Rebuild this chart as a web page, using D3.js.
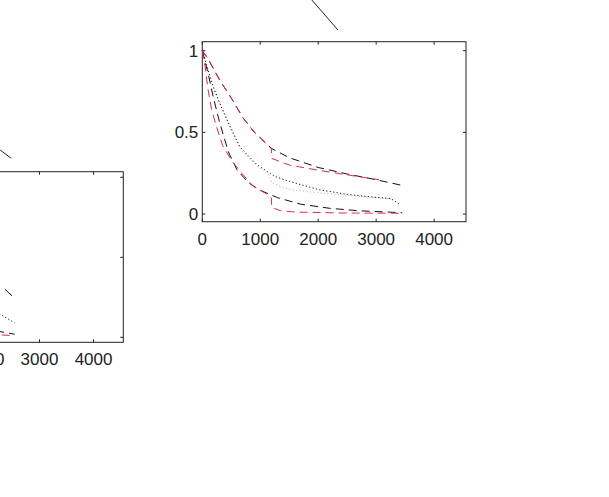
<!DOCTYPE html>
<html>
<head>
<meta charset="utf-8">
<script src="https://cdn.jsdelivr.net/npm/d3@7"></script>
<style>
  body { margin: 0; background: #fff; }
  svg { display: block; }
</style>
</head>
<body>
<div id="chart"></div>
<script>
// Tick values and labels
const xTicks = [0, 1000, 2000, 3000, 4000];
const xTickLabels = ["0", "1000", "2000", "3000", "4000"];
const yTicks = [0, 0.5, 1];
const yTickLabels = ["0", "0.5", "1"];

// Main panel series: [x, y]
const upperBlack = [[0, 1], [100, 0.95], [300, 0.82], [500, 0.71], [700, 0.59], [900, 0.5], [1200, 0.4], [1500, 0.345], [2000, 0.285], [2500, 0.245], [3000, 0.21], [3450, 0.175]];
const upperRed = [[0, 1], [100, 0.95], [300, 0.82], [500, 0.71], [700, 0.59], [900, 0.5], [1190, 0.4], [1200, 0.34], [1500, 0.3], [2000, 0.268], [2500, 0.24], [3050, 0.21]];
const midBlack = [[0, 1], [100, 0.88], [200, 0.77], [300, 0.68], [450, 0.56], [650, 0.41], [950, 0.3], [1250, 0.23], [1500, 0.2], [2000, 0.15], [2500, 0.12], [3000, 0.102], [3250, 0.095], [3400, 0.06]];
const midRed = [[0, 1], [100, 0.87], [200, 0.76], [450, 0.55], [650, 0.4], [950, 0.29], [1150, 0.24], [1200, 0.19], [1500, 0.15], [2000, 0.13], [2500, 0.115], [3000, 0.1], [3300, 0.09]];
const lowerBlack = [[0, 1], [100, 0.86], [200, 0.7], [300, 0.56], [450, 0.38], [600, 0.27], [800, 0.19], [1000, 0.145], [1300, 0.1], [1700, 0.06], [2200, 0.035], [2700, 0.02], [3450, 0.008]];
const lowerRed = [[0, 1], [50, 0.9], [100, 0.76], [160, 0.64], [250, 0.53], [350, 0.42], [500, 0.33], [680, 0.25], [880, 0.17], [1100, 0.125], [1190, 0.1], [1200, 0.04], [1350, 0.02], [1600, 0.012], [2500, 0.006], [3450, 0.005]];

// Left (cut off) panel series
const leftUpperBlack = [[2360, 0.3], [2490, 0.26]];
const leftMidBlack = [[2200, 0.16], [2540, 0.09]];
const leftLowerBlack = [[2200, 0.04], [2540, 0.02]];
const leftLowerRed = [[2300, 0.015], [2540, 0.01]];

// Stray strokes from neighbouring panels
const strayTop = [[1891, 1.31], [2340, 1.127]];
const strayLeft = [[2272, 1.171], [2476, 1.119]];

const RED = "#e0284f";
const width = 609;
const height = 497;

const svg = d3.select("#chart").append("svg")
    .attr("width", width)
    .attr("height", height);

function drawPanel(p) {
    const x = d3.scaleLinear().domain([0, 4550]).range([p.left, p.left + p.width]);
    const y = d3.scaleLinear().domain(p.yDomain).range([p.top + p.height, p.top]);
    const g = svg.append("g");

    // frame
    g.append("rect")
        .attr("x", p.left).attr("y", p.top)
        .attr("width", p.width).attr("height", p.height)
        .attr("fill", "none").attr("stroke", "#222").attr("stroke-width", 1);

    const tl = 3;
    // x ticks, bottom and top
    xTicks.forEach((t, i) => {
        const xp = x(t);
        g.append("line").attr("x1", xp).attr("x2", xp)
            .attr("y1", p.top + p.height).attr("y2", p.top + p.height - tl)
            .attr("stroke", "#222");
        g.append("line").attr("x1", xp).attr("x2", xp)
            .attr("y1", p.top).attr("y2", p.top + tl)
            .attr("stroke", "#222");
        // labels that fall completely outside the window are skipped
        if (xp + 25 < 0) return;
        g.append("text")
            .attr("x", xp).attr("y", p.top + p.height + 23)
            .attr("text-anchor", "middle")
            .style("font-family", "Liberation Sans, Arial, sans-serif")
            .style("font-size", "17px")
            .style("fill", "#222")
            .text(xTickLabels[i]);
    });

    // y ticks, left and right
    yTicks.forEach((t, i) => {
        const yp = y(t);
        g.append("line").attr("x1", p.left).attr("x2", p.left + tl)
            .attr("y1", yp).attr("y2", yp).attr("stroke", "#222");
        g.append("line").attr("x1", p.left + p.width).attr("x2", p.left + p.width - tl)
            .attr("y1", yp).attr("y2", yp).attr("stroke", "#222");
        if (p.left < 0) return;
        g.append("text")
            .attr("x", p.left - 4).attr("y", yp + 6)
            .attr("text-anchor", "end")
            .style("font-family", "Liberation Sans, Arial, sans-serif")
            .style("font-size", "17px")
            .style("fill", "#222")
            .text(yTickLabels[i]);
    });

    const line = d3.line().x(d => x(d[0])).y(d => y(d[1]));

    p.series.forEach(s => {
        g.append("path")
            .datum(s.data)
            .attr("d", line)
            .attr("fill", "none")
            .attr("stroke", s.color)
            .attr("stroke-width", s.w || 1)
            .attr("stroke-dasharray", s.dash || null);
    });
}

const dashed = "8,5";
const dotted = "1.2,2.3";

// Main panel
drawPanel({
    left: 202.3, top: 41.7, width: 263.7, height: 180,
    yDomain: [-0.047, 1.055],
    series: [
        { data: midRed, color: "#f2a0b4", dash: dotted },
        { data: midBlack, color: "#111", dash: dotted },
        { data: upperBlack, color: "#111", dash: dashed },
        { data: upperRed, color: RED, dash: dashed },
        { data: lowerBlack, color: "#111", dash: dashed },
        { data: lowerRed, color: RED, dash: dashed },
        { data: strayTop, color: "#222" }
    ]
});

// Left panel, mostly outside the window
drawPanel({
    left: -122.7, top: 171.7, width: 246, height: 170.6,
    yDomain: [-0.031, 1.035],
    series: [
        { data: leftUpperBlack, color: "#111" },
        { data: leftMidBlack, color: "#111", dash: dotted },
        { data: leftLowerBlack, color: "#111", dash: dashed },
        { data: leftLowerRed, color: RED, dash: dashed },
        { data: strayLeft, color: "#222" }
    ]
});
</script>
</body>
</html>
